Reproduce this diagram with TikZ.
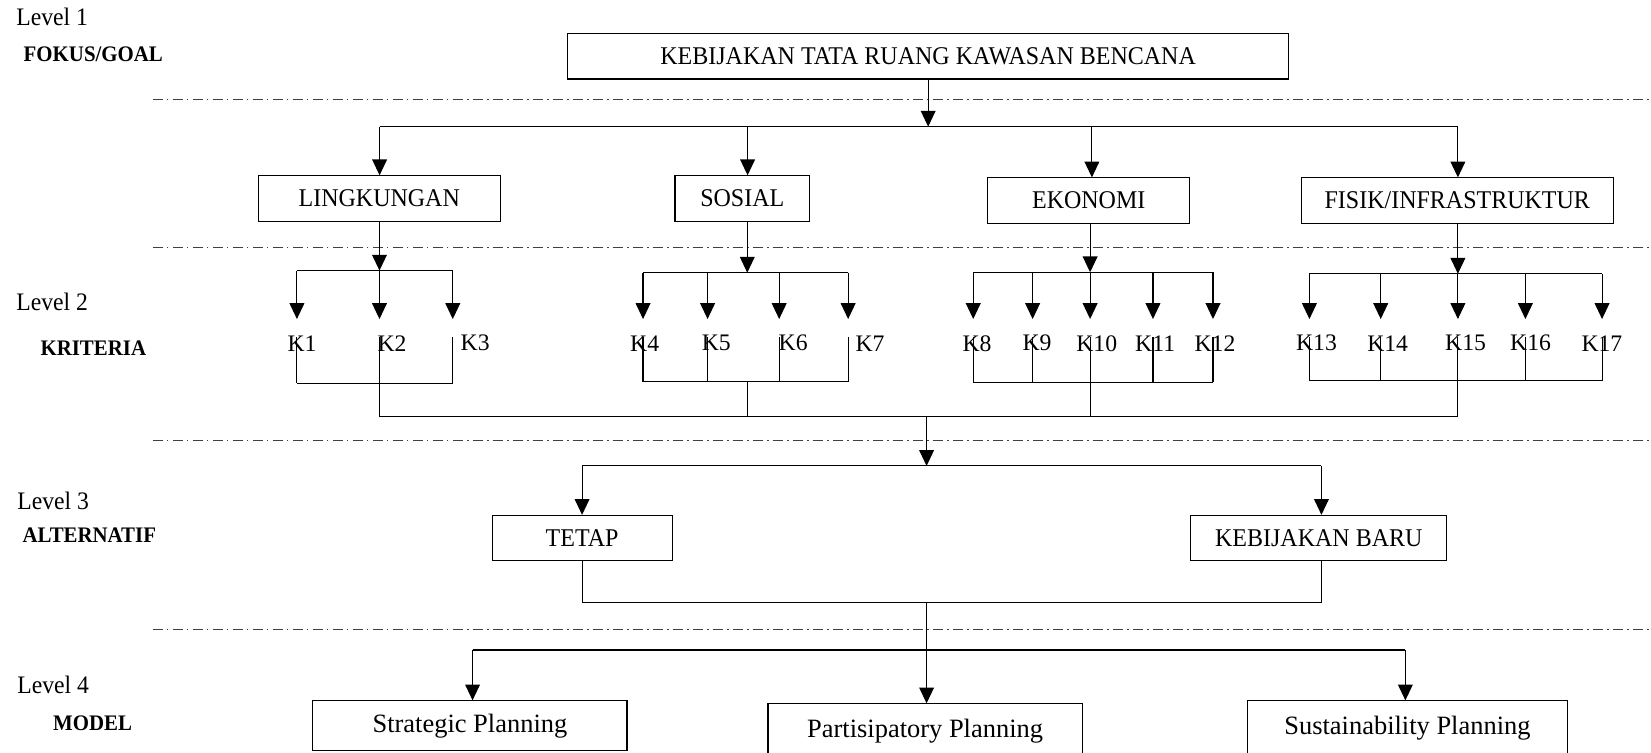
\documentclass[tikz,border=0pt]{standalone}
\usepackage{fontspec}
\setmainfont{Liberation Serif}
\newfontfamily\serree[FakeStretch=0.94]{Liberation Serif}
\usetikzlibrary{arrows.meta}

\begin{document}
\begin{tikzpicture}[x=0.02cm, y=-0.02cm, line width=0.6pt]
        % Définition des styles
        \tikzstyle{boite}=[draw, rectangle, inner sep=0pt, minimum height=0.86cm, font=\serree\fontsize{13.8}{16}\selectfont]
        \tikzstyle{modele}=[draw, rectangle, inner sep=0pt, font=\fontsize{14.3}{17}\selectfont]
        \tikzstyle{fleche}=[-{Triangle[width=0.28cm, length=0.3cm]}]
        \tikzstyle{separation}=[line width=0.45pt, black!75, dash pattern=on 0.19cm off 0.08cm on 0.03cm off 0.08cm]
        \tikzstyle{niveau}=[anchor=west, inner sep=0pt, font=\serree\fontsize{13.6}{16}\selectfont]
        \tikzstyle{etiquette}=[anchor=west, inner sep=0pt, font=\serree\bfseries\fontsize{12}{14}\selectfont]
        \tikzstyle{critere}=[anchor=west, inner sep=0pt, font=\fontsize{12.8}{15}\selectfont]

        \useasboundingbox (0,0) rectangle (1568,715);

        % Niveaux
        \node[niveau] (n1) at (15,16) {Level 1};
        \node[etiquette] (e1) at (22,52) {FOKUS/GOAL};
        \node[niveau] (n2) at (15,287) {Level 2};
        \node[etiquette] (e2) at (38,331) {KRITERIA};
        \node[niveau] (n3) at (16,476) {Level 3};
        \node[etiquette] (e3) at (21,508) {ALTERNATIF};
        \node[niveau] (n4) at (16,650) {Level 4};
        \node[etiquette] (e4) at (50,687) {MODEL};

        % Lignes de séparation
        \foreach \y in {94,235,418.5,597.5}
            \draw[separation] (145,\y) -- (1568,\y);

        % Nœuds
        \node[boite, minimum width=13.7cm] (goal) at (881.5,53.5) {KEBIJAKAN TATA RUANG KAWASAN BENCANA};
        \node[boite, minimum width=4.59cm] (ling) at (360.2,188.5) {LINGKUNGAN};
        \node[boite, minimum width=2.56cm] (sos) at (705,188.5) {SOSIAL};
        \node[boite, minimum width=3.84cm] (eko) at (1034,190.5) {EKONOMI};
        \node[boite, minimum width=5.92cm] (fis) at (1384,190.5) {FISIK/INFRASTRUKTUR};
        \node[boite, minimum width=3.42cm] (tetap) at (552.8,511) {TETAP};
        \node[boite, minimum width=4.86cm] (baru) at (1252.5,511) {KEBIJAKAN BARU};
        \node[modele, minimum width=5.97cm, minimum height=0.95cm] (strat) at (446.3,689.4) {Strategic Planning};
        \node[modele, minimum width=5.97cm, minimum height=1.02cm] (part) at (878.6,694) {Partisipatory Planning};
        \node[modele, minimum width=6.09cm, minimum height=1.04cm] (sust) at (1336.7,691.7) {Sustainability Planning};

        % Niveau 1 vers les critères
        \coordinate (b0) at (881.5,120.3);
        \coordinate (b1) at (360.5,120.3);
        \coordinate (b2) at (710,120.3);
        \coordinate (b3) at (1037,120.3);
        \coordinate (b4) at (1384.6,120.3);
        \draw[fleche] (goal.south) -- (b0);
        \draw (b1) -- (b4);
        \draw[fleche] (b1) -- (b1 |- ling.north);
        \draw[fleche] (b2) -- (b2 |- sos.north);
        \draw[fleche] (b3) -- (b3 |- eko.north);
        \draw[fleche] (b4) -- (b4 |- fis.north);

        % Sous-critères K1 ... K17
        \coordinate (g1) at (360.4,257);
        \coordinate (g2) at (709.7,259);
        \coordinate (g3) at (1035.3,258.6);
        \coordinate (g4) at (1384.6,260);
        \draw[fleche] (g1 |- ling.south) -- (g1);
        \draw[fleche] (g2 |- sos.south) -- (g2);
        \draw[fleche] (g3 |- eko.south) -- (g3);
        \draw[fleche] (g4 |- fis.south) -- (g4);
        \foreach \xa/\xt/\n/\yh/\yb in {282/272.6/1/257/364, 360.4/358/2/257/364, 430/437/3/257/364,
                610.7/598/4/259/362.5, 672/666/5/259/362.5, 740/739/6/259/362.5, 805.5/812/7/259/362.5,
                924.3/913.7/8/258.6/363, 980.7/970.7/9/258.6/363, 1035.3/1021.7/10/258.6/363, 1095/1077.6/11/258.6/363, 1152/1134/12/258.6/363,
                1243.6/1230.4/13/260/361.5, 1311.3/1298/14/260/361.5, 1384.6/1372/15/260/361.5, 1448.7/1433.7/16/260/361.5, 1521.5/1501.5/17/260/361.5} {
            \coordinate (kh\n) at (\xa,\yh);
            \coordinate (kt\n) at (\xa,303);
            \coordinate (kb\n) at (\xa,320);
            \coordinate (kc\n) at (\xa,\yb);
            \node[critere] (k\n) at (\xt,326) {K\n};
            \draw[fleche] (kh\n) -- (kt\n);
            \draw (kb\n) -- (kc\n);
        }
        \draw (kh1) -- (kh3);
        \draw (kh4) -- (kh7);
        \draw (kh8) -- (kh12);
        \draw (kh13) -- (kh17);
        \draw (kc1) -- (kc3);
        \draw (kc4) -- (kc7);
        \draw (kc8) -- (kc12);
        \draw (kc13) -- (kc17);

        % Regroupement vers les alternatives
        \coordinate (m1) at (360.4,395.5);
        \coordinate (m2) at (709.7,395.5);
        \coordinate (m3) at (1035.3,395.5);
        \coordinate (m4) at (1384.6,395.5);
        \coordinate (m0) at (880,395.5);
        \coordinate (s2) at (709.7,362.5);
        \draw (kc2) -- (m1);
        \draw (s2) -- (m2);
        \draw (kc10) -- (m3);
        \draw (kc15) -- (m4);
        \draw (m1) -- (m4);
        \coordinate (a0) at (880,442.5);
        \coordinate (a1) at (552.8,442.5);
        \coordinate (a2) at (1255,442.5);
        \draw[fleche] (m0) -- (a0);
        \draw (a1) -- (a2);
        \draw[fleche] (a1) -- (a1 |- tetap.north);
        \draw[fleche] (a2) -- (a2 |- baru.north);

        % Alternatives vers les modèles
        \coordinate (c1) at (552.8,572.6);
        \coordinate (c2) at (1255,572.6);
        \coordinate (c0) at (880,572.6);
        \draw (tetap.south) -- (c1) -- (c2) -- (c2 |- baru.south);
        \draw[fleche] (c0) -- (c0 |- part.north);
        \coordinate (d1) at (448.8,617.3);
        \coordinate (d2) at (1334.7,617.3);
        \draw (d1) -- (d2);
        \draw[fleche] (d1) -- (d1 |- strat.north);
        \draw[fleche] (d2) -- (d2 |- sust.north);
\end{tikzpicture}
\end{document}
